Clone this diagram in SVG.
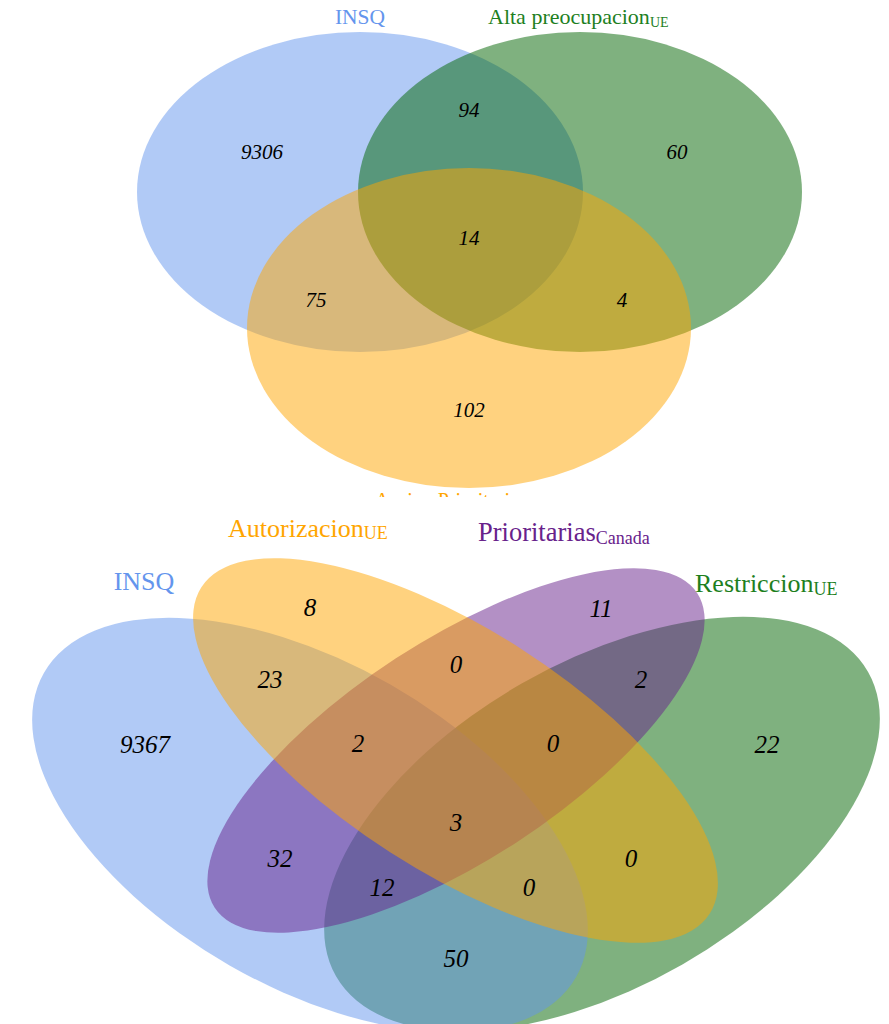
<svg xmlns="http://www.w3.org/2000/svg" width="889" height="1024" viewBox="0 0 889 1024">
<style>
.lbl{font-family:"Liberation Serif","Times New Roman",serif}
.n1{font-family:"Liberation Serif","Times New Roman",serif;font-style:italic;font-size:21px;fill:#000;text-anchor:middle}
.n2{font-family:"Liberation Serif","Times New Roman",serif;font-style:italic;font-size:25px;fill:#000;text-anchor:middle}
.blue{fill:#6495ED;fill-opacity:0.5}
.green{fill:#006400;fill-opacity:0.5}
.orange{fill:#FFA500;fill-opacity:0.5}
.purple{fill:#68228B;fill-opacity:0.5}
</style>
<defs>
<clipPath id="topclip"><rect x="0" y="0" width="889" height="497"/></clipPath>
</defs>
<rect x="0" y="0" width="889" height="1024" fill="#fff"/>

<!-- Top Venn (3 sets) -->
<g id="top-insq"><ellipse class="blue" cx="360" cy="192" rx="223" ry="160"/></g>
<g id="top-alta"><ellipse class="green" cx="580" cy="192" rx="222" ry="160"/></g>
<g id="top-accion"><ellipse class="orange" cx="469" cy="328" rx="222" ry="160"/></g>

<g id="top-labels">
<text class="lbl" x="360" y="24" font-size="21.5" fill="#6495ED" text-anchor="middle">INSQ</text>
<text class="lbl" x="488" y="24" font-size="22" fill="#1E7F1E">Alta preocupacion<tspan font-size="14" dy="3">UE</tspan></text>
<text class="lbl" x="375" y="507" font-size="20" fill="#FFA500" clip-path="url(#topclip)">Accion Prioritaria</text>
</g>
<g id="top-counts">
<text class="n1" x="262" y="159">9306</text>
<text class="n1" x="469" y="117">94</text>
<text class="n1" x="677" y="159">60</text>
<text class="n1" x="469" y="245">14</text>
<text class="n1" x="316" y="307">75</text>
<text class="n1" x="622" y="307">4</text>
<text class="n1" x="469" y="417">102</text>
</g>

<!-- Bottom Venn (4 sets) -->
<g id="bot-restriccion"><ellipse class="green" cx="0" cy="0" rx="306.5" ry="161.8" transform="translate(602 824) rotate(-29.8)"/></g>
<g id="bot-insq"><ellipse class="blue" cx="0" cy="0" rx="306.5" ry="161.8" transform="translate(310 825) rotate(29.8)"/></g>
<g id="bot-prioritarias"><ellipse class="purple" cx="0" cy="0" rx="288" ry="110" transform="translate(456 750.5) rotate(-33.1)"/></g>
<g id="bot-autorizacion"><ellipse class="orange" cx="0" cy="0" rx="302" ry="121" transform="translate(455.5 750.5) rotate(32.7)"/></g>

<g id="bot-labels">
<text class="lbl" x="144" y="590" font-size="26" fill="#6495ED" text-anchor="middle">INSQ</text>
<text class="lbl" x="228" y="537" font-size="26" fill="#FFA500">Autorizacion<tspan font-size="18" dy="2">UE</tspan></text>
<text class="lbl" x="478" y="541" font-size="26.5" fill="#68228B">Prioritarias<tspan font-size="18" dy="3">Canada</tspan></text>
<text class="lbl" x="695" y="592" font-size="26" fill="#1E7F1E">Restriccion<tspan font-size="18" dy="3">UE</tspan></text>
</g>
<g id="bot-counts">
<text class="n2" x="145" y="753">9367</text>
<text class="n2" x="310" y="616">8</text>
<text class="n2" x="601" y="617">11</text>
<text class="n2" x="767" y="753">22</text>
<text class="n2" x="270" y="688">23</text>
<text class="n2" x="456" y="673">0</text>
<text class="n2" x="641" y="688">2</text>
<text class="n2" x="358" y="752">2</text>
<text class="n2" x="553" y="752">0</text>
<text class="n2" x="456" y="831">3</text>
<text class="n2" x="280" y="867">32</text>
<text class="n2" x="631" y="867">0</text>
<text class="n2" x="382" y="896">12</text>
<text class="n2" x="529" y="896">0</text>
<text class="n2" x="456" y="967">50</text>
</g>
</svg>
